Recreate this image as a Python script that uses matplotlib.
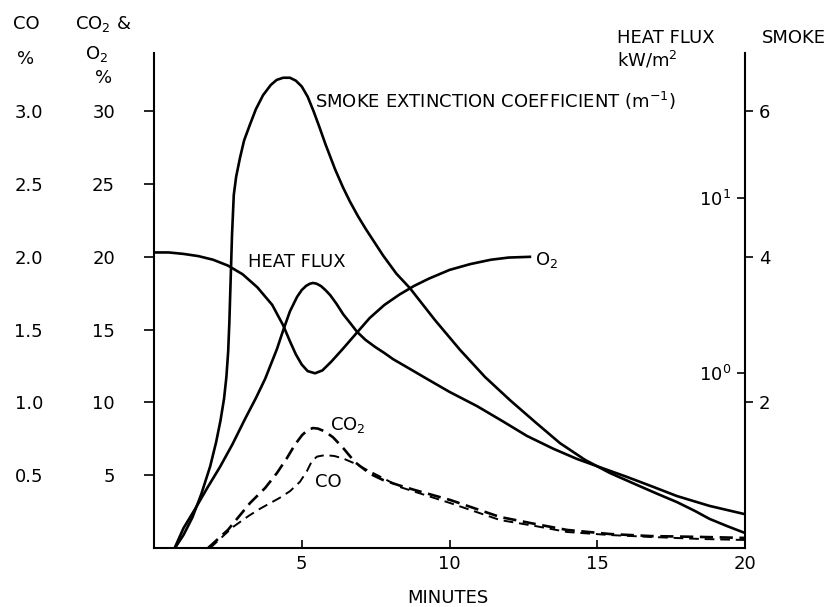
import numpy as np
import matplotlib.pyplot as plt
from matplotlib.ticker import NullLocator

W, H = 836, 607

# smoke extinction coefficient (1/m), right-hand linear scale
t_smoke = [0.71, 1.0, 1.3, 1.6, 1.9, 2.1, 2.25, 2.37, 2.45, 2.51, 2.55, 2.58, 2.61, 2.64,
           2.70, 2.78, 2.91, 3.05, 3.25, 3.45, 3.69, 3.95, 4.15, 4.37, 4.6, 4.8, 5.0,
           5.2, 5.4, 5.6, 5.8, 6.13, 6.4, 6.63, 6.9, 7.17, 7.75, 8.2, 8.66, 9.51, 10.36, 11.2,
           12.05, 12.9, 13.74, 14.59, 15.43, 16.35, 17.0, 17.7, 18.3, 18.8, 19.4, 20.0]
smoke = [0.0, 0.18, 0.42, 0.74, 1.12, 1.45, 1.75, 2.05, 2.35, 2.7, 3.1, 3.5, 3.9, 4.3,
         4.85, 5.1, 5.36, 5.6, 5.82, 6.03, 6.22, 6.36, 6.43, 6.46, 6.46, 6.42, 6.34,
         6.2, 6.0, 5.78, 5.55, 5.2, 4.95, 4.76, 4.56, 4.38, 4.02, 3.77, 3.57, 3.13, 2.72, 2.35,
         2.03, 1.73, 1.44, 1.21, 1.03, 0.865, 0.75, 0.63, 0.51, 0.40, 0.30, 0.206]

# heat flux kW/m2, log scale
t_hf = [0.71, 1.0, 1.39, 1.8, 2.23, 2.65, 3.08, 3.45, 3.76, 4.16, 4.37, 4.60, 4.84, 5.0, 5.15,
        5.28, 5.38, 5.5, 5.65, 5.8, 5.96, 6.18, 6.40, 6.65, 6.87, 7.15, 7.48, 7.8, 8.09, 8.6,
        9.24, 10.0, 10.93, 11.8, 12.62, 13.5, 14.31, 15.2, 16.0, 16.85, 17.7, 18.8, 20.0]
heat_flux = [0.101, 0.13, 0.167, 0.22, 0.29, 0.39, 0.546, 0.72, 0.925, 1.37, 1.75, 2.25, 2.72, 2.98,
             3.15, 3.24, 3.27, 3.24, 3.14, 2.98, 2.79, 2.48, 2.17, 1.92, 1.72, 1.55, 1.41, 1.30,
             1.20, 1.07, 0.925, 0.78, 0.647, 0.53, 0.437, 0.37, 0.323, 0.285, 0.255, 0.225, 0.198,
             0.174, 0.156]

# oxygen %
t_o2 = [0, 0.5, 1.0, 1.5, 2.0, 2.5, 3.0, 3.5, 4.0, 4.37, 4.6, 4.8, 5.0, 5.2, 5.45, 5.7,
        6.0, 6.4, 6.87, 7.3, 7.8, 8.3, 8.8, 9.3, 10.0, 10.7, 11.4, 12.0, 12.72]
o2 = [20.3, 20.3, 20.2, 20.05, 19.8, 19.4, 18.8, 17.9, 16.7, 15.3, 14.2, 13.3, 12.6, 12.15, 12.0, 12.2,
      12.8, 13.7, 14.8, 15.8, 16.7, 17.4, 18.0, 18.5, 19.1, 19.5, 19.8, 19.95, 20.0]

# carbon dioxide %
t_co2 = [1.83, 2.50, 3.25, 3.76, 4.16, 4.50, 4.77, 5.01, 5.2, 5.38, 5.55, 5.79, 6.06, 6.40,
         6.80, 7.31, 7.75, 8.3, 8.83, 10.02, 11.71, 12.9, 13.98, 15.43, 16.8, 18.5, 20.0]
co2 = [0.0, 1.24, 3.09, 4.12, 5.15, 6.18, 7.1, 7.75, 8.1, 8.24, 8.2, 8.0, 7.6, 6.87,
       5.9, 5.1, 4.67, 4.3, 3.98, 3.30, 2.13, 1.65, 1.24, 0.96, 0.82, 0.76, 0.69]

# carbon monoxide %
t_co = [1.9, 2.67, 3.2, 3.59, 4.26, 4.60, 4.94, 5.18, 5.35, 5.52, 5.79, 6.1, 6.40, 6.8, 7.21,
        7.8, 8.32, 10.02, 11.71, 12.9, 13.98, 15.43, 16.8, 18.5, 20.0]
co = [0.0, 0.144, 0.22, 0.27, 0.345, 0.39, 0.455, 0.53, 0.6, 0.628, 0.638, 0.632, 0.615, 0.58, 0.536,
      0.475, 0.419, 0.309, 0.192, 0.151, 0.110, 0.089, 0.076, 0.062, 0.055]

minute_ticks = [5, 10, 15, 20]
gas_ticks = [5, 10, 15, 20, 25, 30]
co_ticks = [0.5, 1.0, 1.5, 2.0, 2.5, 3.0]
co_labels = ['0.5', '1.0', '1.5', '2.0', '2.5', '3.0']
smoke_ticks = [2, 4, 6]
hf_ticks = [1, 10]
hf_labels = ['$10^0$', '$10^1$']

plt.rcParams['font.family'] = 'DejaVu Sans'
plt.rcParams['mathtext.default'] = 'regular'
plt.rcParams['lines.solid_joinstyle'] = 'round'
plt.rcParams['lines.dash_joinstyle'] = 'round'
FS = 13
LW = 1.9


def px(x, y):
    return x / W, 1 - y / H


fig = plt.figure(figsize=(W / 100, H / 100), dpi=100)
ax = fig.add_axes([154 / W, 1 - 548 / H, (745 - 154) / W, (548 - 53) / H])
ax.set_xlim(0, 20)
ax.set_ylim(0, 34)
ax.spines['top'].set_visible(False)
for s in ['left', 'right', 'bottom']:
    ax.spines[s].set_linewidth(1.5)
ax.set_xticks(minute_ticks)
ax.set_yticks(gas_ticks)
ax.tick_params(axis='x', direction='in', length=6, width=1.2, pad=5, labelsize=FS)
ax.tick_params(axis='y', direction='out', length=7, width=1.2, pad=21, labelsize=FS)

ax.plot(t_o2, o2, color='black', lw=LW)
ax.plot(t_co2, co2, color='black', lw=LW, dashes=(5, 2.5))

# CO % labels sit further out on the left
ax_co = ax.twinx()
ax_co.set_ylim(0, 3.4)
ax_co.yaxis.tick_left()
ax_co.set_yticks(co_ticks)
ax_co.set_yticklabels(co_labels)
ax_co.tick_params(axis='y', length=0, pad=80, labelsize=FS)
for s in ax_co.spines.values():
    s.set_visible(False)
ax_co.plot(t_co, co, color='black', lw=1.4, dashes=(5, 3))

# smoke scale outside the right spine
ax_sm = ax.twinx()
ax_sm.set_ylim(0, 6.8)
ax_sm.set_yticks(smoke_ticks)
ax_sm.tick_params(axis='y', direction='out', length=6, width=1.2, pad=4, labelsize=FS)
for s in ax_sm.spines.values():
    s.set_visible(False)
ax_sm.plot(t_smoke, smoke, color='black', lw=LW)

# heat flux log scale, labels just inside the right spine
ax_hf = ax.twinx()
ax_hf.set_yscale('log')
ax_hf.set_ylim(0.1, 67.4)
ax_hf.yaxis.tick_left()
ax_hf.spines['left'].set_position(('axes', 1.0))
for s in ax_hf.spines.values():
    s.set_visible(False)
ax_hf.set_yticks(hf_ticks)
ax_hf.set_yticklabels(hf_labels)
ax_hf.yaxis.set_minor_locator(NullLocator())
ax_hf.tick_params(axis='y', direction='out', length=6, width=1.2, pad=4, labelsize=FS)
ax_hf.plot(t_hf, heat_flux, color='black', lw=LW)

# axis titles
fig.text(*px(13, 29), 'CO', fontsize=FS, va='baseline')
fig.text(*px(17, 64), '%', fontsize=FS, va='baseline')
fig.text(*px(75, 29), 'CO$_2$ &', fontsize=FS, va='baseline')
fig.text(*px(85, 59), 'O$_2$', fontsize=FS, va='baseline')
fig.text(*px(95, 83), '%', fontsize=FS, va='baseline')
fig.text(*px(617, 43), 'HEAT FLUX', fontsize=FS, va='baseline')
fig.text(*px(617, 66), 'kW/m$^2$', fontsize=FS, va='baseline')
fig.text(*px(762, 43), 'SMOKE', fontsize=FS, va='baseline')
fig.text(*px(448, 603), 'MINUTES', fontsize=FS, ha='center', va='baseline')

# curve labels
fig.text(*px(315, 108), 'SMOKE EXTINCTION COEFFICIENT (m$^{-1}$)', fontsize=FS, va='baseline')
fig.text(*px(248, 267), 'HEAT FLUX', fontsize=FS, va='baseline')
fig.text(*px(535, 265), 'O$_2$', fontsize=FS, va='baseline')
fig.text(*px(330, 430), 'CO$_2$', fontsize=FS, va='baseline')
fig.text(*px(315, 487), 'CO', fontsize=FS, va='baseline')

fig.savefig('out.png', dpi=100)
